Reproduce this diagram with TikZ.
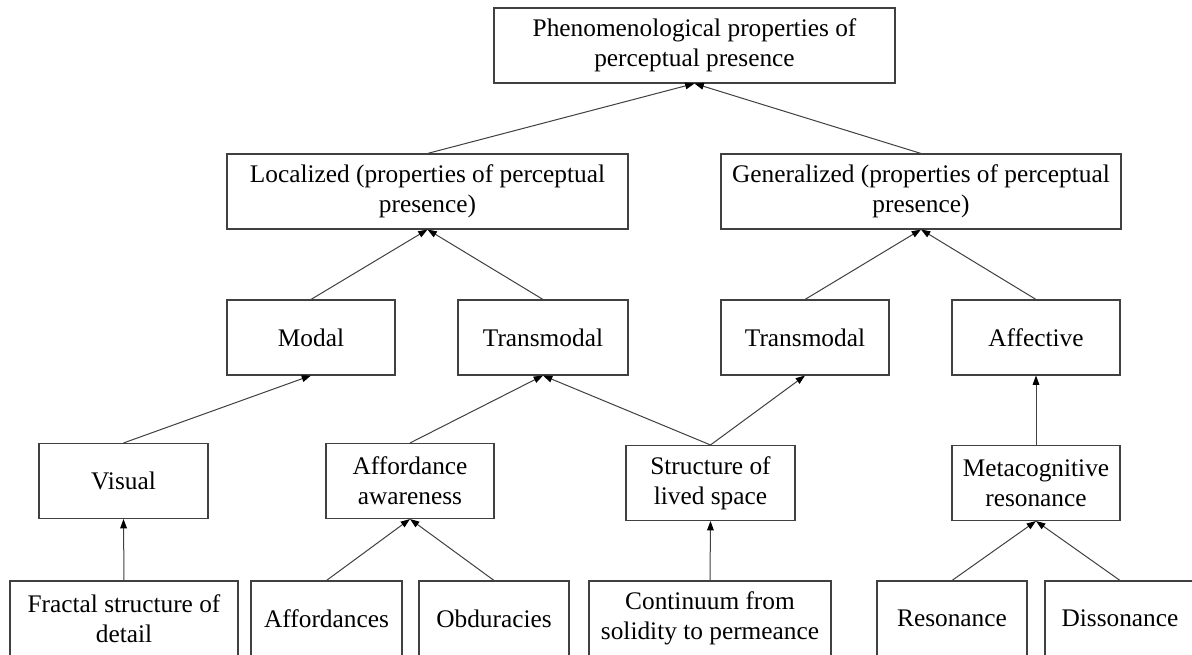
\documentclass[tikz,border=0pt]{standalone}
\usepackage{fontspec}
\setmainfont{Liberation Serif}
\newfontfamily\tnr{Liberation Serif}
\usetikzlibrary{arrows.meta}
\definecolor{linegray}{HTML}{404040}
\begin{document}
\begin{tikzpicture}[x=0.75pt,y=-0.75pt,
  bx/.style={draw=linegray, line width=0.8pt, rectangle, inner sep=0pt,
    minimum height=56.25pt, align=center, text=black,
    font=\tnr\fontsize{19pt}{22.5pt}\selectfont},
  arr/.style={draw=linegray, line width=0.75pt, -{Triangle[length=7pt,width=5pt,color=black]}}]
\useasboundingbox (0,0) rectangle (1192,655);
\fill[white] (0,0) rectangle (1192,655);
% row 1
\node[bx, minimum width=300.75pt] (top) at (694.5,45.5) {Phenomenological properties of\\perceptual presence};
% row 2
\node[bx, minimum width=300.75pt] (loc) at (427.5,191.5) {Localized (properties of perceptual\\presence)};
\node[bx, minimum width=300pt] (gen) at (921,191.5) {Generalized (properties of perceptual\\presence)};
% row 3
\node[bx, minimum width=126pt] (modal) at (311,337.5) {Modal};
\node[bx, minimum width=127.5pt] (trans1) at (543,337.5) {Transmodal};
\node[bx, minimum width=126pt] (trans2) at (805,337.5) {Transmodal};
\node[bx, minimum width=126pt] (aff) at (1036,337.5) {Affective};
% row 4
\node[bx, minimum width=126.75pt] (visual) at (123.5,481) {Visual};
\node[bx, minimum width=126pt] (aa) at (410,481) {Affordance\\awareness};
\node[bx, minimum width=126.75pt] (struct) at (710.5,483) {Structure of\\lived space};
\node[bx, minimum width=126pt] (meta) at (1036,483) {Metacognitive\\resonance};
% row 5
\node[bx, minimum width=171pt] (fractal) at (124,618.5) {Fractal structure of\\detail};
\node[bx, minimum width=113.25pt] (affs) at (326.5,618.5) {Affordances};
\node[bx, minimum width=112.5pt] (obd) at (494,618.5) {Obduracies};
\node[bx, minimum width=181.5pt] (cont) at (710,618.5) {Continuum from\\solidity to permeance};
\node[bx, minimum width=112.5pt] (res) at (952,618.5) {Resonance};
\node[bx, minimum width=112.5pt] (dis) at (1120,618.5) {Dissonance};
% connectors
\draw[arr] (loc.north) -- (top.south);
\draw[arr] (gen.north) -- (top.south);
\draw[arr] (modal.north) -- (loc.south);
\draw[arr] (trans1.north) -- (loc.south);
\draw[arr] (trans2.north) -- (gen.south);
\draw[arr] (aff.north) -- (gen.south);
\draw[arr] (visual.north) -- (modal.south);
\draw[arr] (aa.north) -- (trans1.south);
\draw[arr] (struct.north) -- (trans1.south);
\draw[arr] (struct.north) -- (trans2.south);
\draw[arr] (meta.north) -- (aff.south);
\draw[arr] (fractal.north) -- (visual.south);
\draw[arr] (affs.north) -- (aa.south);
\draw[arr] (obd.north) -- (aa.south);
\draw[arr] (cont.north) -- (struct.south);
\draw[arr] (res.north) -- (meta.south);
\draw[arr] (dis.north) -- (meta.south);
\end{tikzpicture}
\end{document}
